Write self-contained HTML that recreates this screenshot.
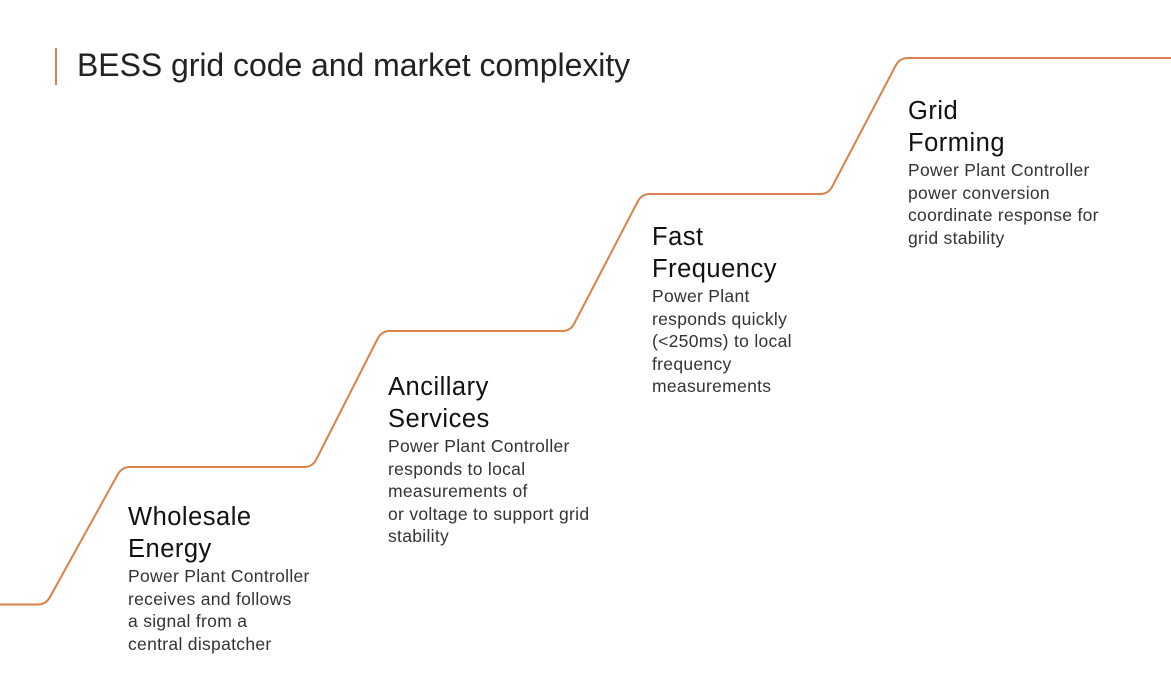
<!DOCTYPE html>
<html><head><meta charset="utf-8"><style>
body{margin:0;width:1171px;height:679px;background:#fff;overflow:hidden;position:relative;font-family:"Liberation Sans",sans-serif;color:#111}
.bar{position:absolute;left:55px;top:48px;width:2px;height:37px;background:#d9824a}
.title{position:absolute;left:77px;top:47px;font-size:32px;color:#222;letter-spacing:-0.05px}
.blk{position:absolute;white-space:nowrap}
.blk h{display:block;font-size:25.5px;line-height:32px;color:#111;letter-spacing:0.5px}
.blk p{margin:0;font-size:17.5px;line-height:22.5px;color:#333;letter-spacing:0.3px}
svg{position:absolute;left:0;top:0}
</style></head><body>
<svg width="1171" height="679"><path d="M0 604.5 H38 Q46 604.5 50 597 L118 474 Q122 467 130 467 H304 Q312 467 316 460 L378 338 Q382 331 390 331 H562 Q570 331 574 324 L638 201 Q642 194 650 194 H820 Q828 194 832 187 L896 65 Q900 58 908 58 H1171" fill="none" stroke="#d9824a" stroke-width="2"/></svg>
<div class="bar"></div>
<div class="title">BESS grid code and market complexity</div>
<div class="blk" style="left:128px;top:501px"><h>Wholesale<br>Energy</h><p>Power Plant Controller<br>receives and follows<br>a signal from a<br>central dispatcher</p></div>
<div class="blk" style="left:388px;top:371px"><h>Ancillary<br>Services</h><p>Power Plant Controller<br>responds to local<br>measurements of<br>or voltage to support grid<br>stability</p></div>
<div class="blk" style="left:652px;top:221px"><h>Fast<br>Frequency</h><p>Power Plant<br>responds quickly<br>(&lt;250ms) to local<br>frequency<br>measurements</p></div>
<div class="blk" style="left:908px;top:95px"><h>Grid<br>Forming</h><p>Power Plant Controller<br>power conversion<br>coordinate response for<br>grid stability</p></div>
</body></html>
